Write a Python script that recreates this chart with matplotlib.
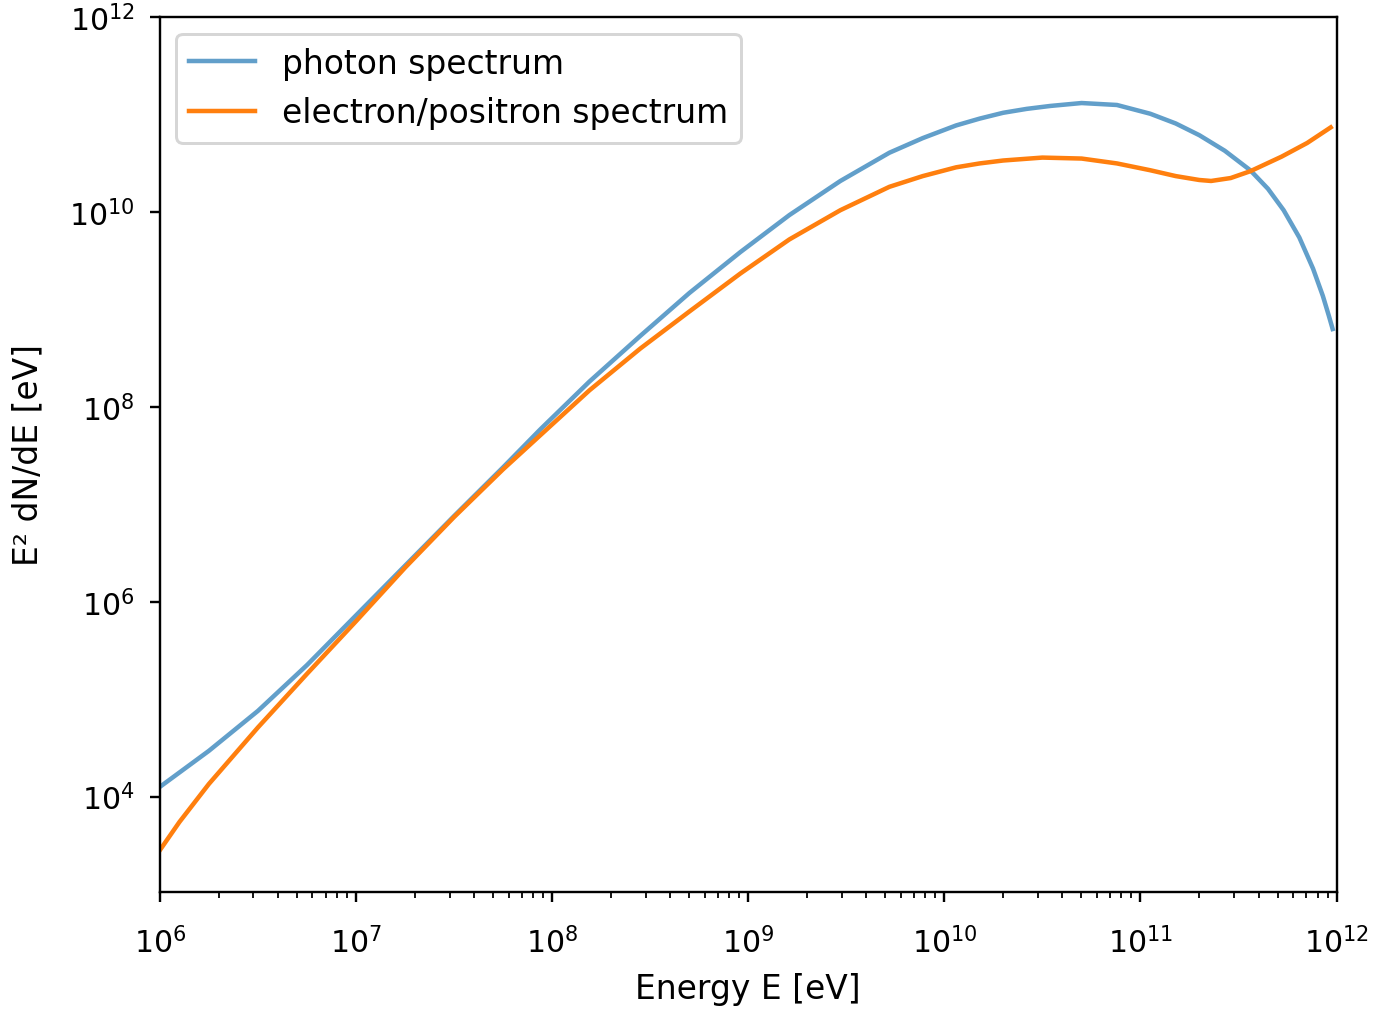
import numpy as np
import matplotlib
matplotlib.use('Agg')
import matplotlib.pyplot as plt
from matplotlib.ticker import NullLocator, NullFormatter

# log10 of energy [eV] and log10 of E^2 dN/dE [eV]
photon_logE = [6.00, 6.25, 6.50, 6.75, 7.00, 7.25, 7.50, 7.75, 7.94, 8.19,
               8.45, 8.70, 8.96, 9.21, 9.47, 9.72, 9.89, 10.06, 10.18, 10.30,
               10.42, 10.54, 10.70, 10.88, 11.05, 11.18, 11.30, 11.43, 11.56,
               11.65, 11.73, 11.81, 11.88, 11.93, 11.96, 11.98]
photon_logY = [4.10, 4.47, 4.88, 5.35, 5.86, 6.37, 6.88, 7.38, 7.77, 8.26,
               8.73, 9.17, 9.59, 9.97, 10.32, 10.61, 10.76, 10.89, 10.96, 11.02,
               11.06, 11.09, 11.12, 11.10, 11.01, 10.91, 10.79, 10.63, 10.43,
               10.24, 10.02, 9.74, 9.42, 9.14, 8.94, 8.80]

pair_logE = [6.00, 6.10, 6.25, 6.50, 6.75, 7.00, 7.25, 7.50, 7.75, 7.94,
             8.19, 8.45, 8.70, 8.96, 9.21, 9.47, 9.72, 9.89, 10.06, 10.18,
             10.30, 10.50, 10.70, 10.88, 11.05, 11.18, 11.30, 11.36, 11.46,
             11.56, 11.72, 11.85, 11.97]
pair_logY = [3.45, 3.74, 4.13, 4.71, 5.26, 5.80, 6.35, 6.87, 7.36, 7.71,
             8.17, 8.60, 8.98, 9.37, 9.72, 10.02, 10.26, 10.37, 10.46, 10.50,
             10.53, 10.56, 10.55, 10.50, 10.43, 10.37, 10.33, 10.32, 10.35,
             10.42, 10.57, 10.71, 10.87]

fig = plt.figure(figsize=(6.4, 4.7), dpi=215.3)
ax = fig.add_axes([0.116, 0.118, 0.854, 0.864])

ax.plot(10 ** np.array(photon_logE), 10 ** np.array(photon_logY),
        color='C0', alpha=0.7, label='photon spectrum')
ax.plot(10 ** np.array(pair_logE), 10 ** np.array(pair_logY),
        color='C1', label='electron/positron spectrum')

ax.set_xscale('log')
ax.set_yscale('log')
ax.set_xlim(1e6, 1e12)
ax.set_ylim(1.06e3, 1e12)
ax.set_yticks([1e4, 1e6, 1e8, 1e10, 1e12])
ax.yaxis.set_minor_locator(NullLocator())
ax.xaxis.set_minor_formatter(NullFormatter())
ax.tick_params(axis='x', pad=8)
ax.tick_params(axis='y', pad=5)

ax.set_xlabel('Energy E [eV]', fontsize=11)
ax.set_ylabel('E² dN/dE [eV]', fontsize=11)
ax.xaxis.set_label_coords(0.5, -0.092)
ax.yaxis.set_label_coords(-0.098, 0.5)
ax.legend(loc='upper left', fontsize=11)

fig.savefig('out.png')
